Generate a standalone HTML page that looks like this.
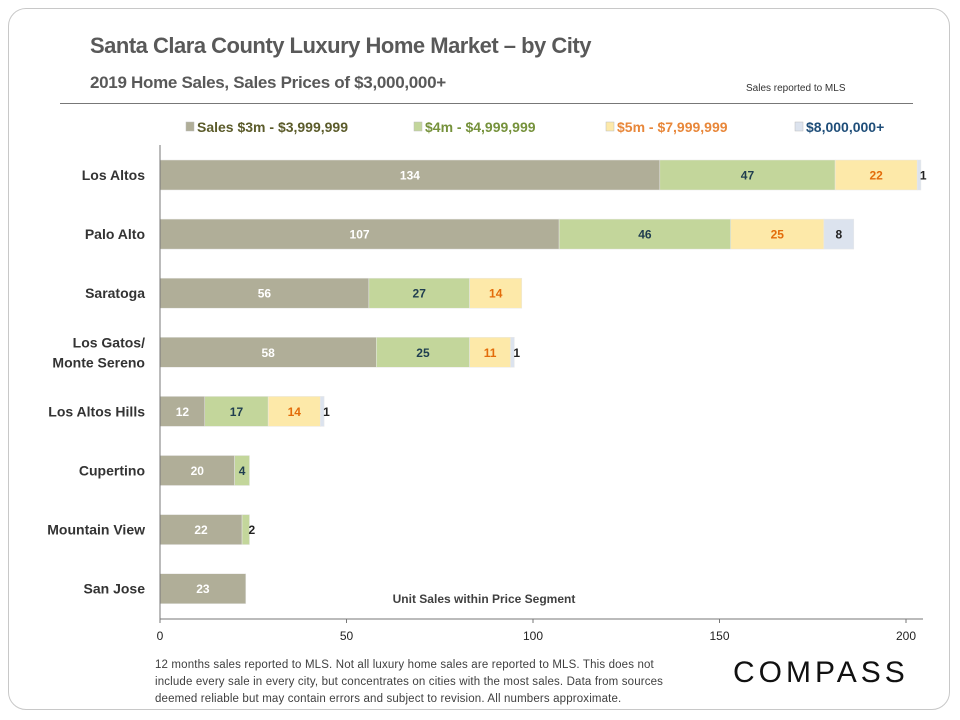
<!DOCTYPE html>
<html><head><meta charset="utf-8"><style>
body{margin:0;background:#fff;font-family:"Liberation Sans",sans-serif;}
#card{position:absolute;left:8px;top:8px;width:942px;height:702px;border:1px solid #c8c8c8;border-radius:18px;box-sizing:border-box;}
.t{position:absolute;white-space:nowrap;}
</style></head><body>
<div id="card"></div>
<div class="t" style="left:90px;top:33px;font-size:22px;font-weight:bold;color:#595959;letter-spacing:-0.5px">Santa Clara County Luxury Home Market – by City</div>
<div class="t" style="left:90px;top:73px;font-size:17px;font-weight:bold;color:#595959;letter-spacing:-0.3px">2019 Home Sales, Sales Prices of $3,000,000+</div>
<div class="t" style="left:746px;top:83px;font-size:10px;color:#333">Sales reported to MLS</div>
<div style="position:absolute;left:60px;top:103px;width:853px;height:1px;background:#777"></div>
<svg id="chart" width="960" height="720" style="position:absolute;left:0;top:0"></svg>
<div class="t" style="left:155px;top:657px;font-size:11.5px;line-height:17px;color:#404040;letter-spacing:0.15px">12 months sales reported to MLS. Not all luxury home sales are reported to MLS. This does not<br>include every sale in every city, but concentrates on cities with the most sales. Data from sources<br>deemed reliable but may contain errors and subject to revision. All numbers approximate.</div>
<div class="t" style="left:733px;top:656px;font-size:30px;letter-spacing:4px;color:#111">COMPASS</div>
<script>
const cities=["Los Altos","Palo Alto","Saratoga","Los Gatos/|Monte Sereno","Los Altos Hills","Cupertino","Mountain View","San Jose"];
const s3m=[134,107,56,58,12,20,22,23];
const s4m=[47,46,27,25,17,4,2,0];
const s5m=[22,25,14,11,14,0,0,0];
const s8m=[1,8,0,1,1,0,0,0];
const ticks=[0,50,100,150,200];
const seriesNames=["Sales $3m - $3,999,999","$4m - $4,999,999","$5m - $7,999,999","$8,000,000+"];
const fills=["#b0ae98","#c3d69b","#fde9a9","#dce3ee"];
const textCols=["#fff","#1f3d4f","#e36c0a","#222"];
const legCols=["#5b5b2a","#76923c","#e8873a","#1f4e79"];
const NS="http://www.w3.org/2000/svg";
const svg=document.getElementById('chart');
const x=v=>160+v*3.73;
const y=i=>175+i*59.1;
function mk(t,a){const e=document.createElementNS(NS,t);for(const k in a)e.setAttribute(k,a[k]);svg.appendChild(e);return e;}
const all=[s3m,s4m,s5m,s8m];
cities.forEach((c,i)=>{
  let acc=0;
  all.forEach((s,k)=>{
    const v=s[i]; if(!v)return;
    const r=mk('rect',{x:x(acc),y:y(i)-15,width:x(acc+v)-x(acc),height:30,fill:fills[k],stroke:'#e8e8e8','stroke-width':0.5});
    
    
    const tx=v<3?x(acc+v)-1:(x(acc)+x(acc+v))/2;
    const t=mk('text',{x:tx,y:y(i)+4.5,'text-anchor':v<3?'start':'middle','font-size':12,'font-weight':'bold',fill:v<3?'#222':textCols[k]});
    t.textContent=v;
    
    
    acc+=v;
  });
  const parts=c.split('|');
  parts.forEach((p,j)=>{
    const t=mk('text',{x:145,y:y(i)+5+(j-(parts.length-1)/2)*20,'text-anchor':'end','font-size':14,'font-weight':'bold',fill:'#333'});
    t.textContent=p;
    
    
  });
});
let a=mk('line',{x1:160,y1:145,x2:160,y2:619,stroke:'#777'});

a=mk('line',{x1:160,y1:619,x2:923,y2:619,stroke:'#777'});

ticks.forEach(v=>{
  mk('line',{x1:x(v),y1:619,x2:x(v),y2:623,stroke:'#777'});
  const t=mk('text',{x:x(v),y:640,'text-anchor':'middle','font-size':12,fill:'#222'});
  t.textContent=v;
  
  
});
const xt=mk('text',{x:484,y:603,'text-anchor':'middle','font-size':12,'font-weight':'bold',fill:'#404040'});
xt.textContent="Unit Sales within Price Segment";

const lx=[186,414,606,795];
seriesNames.forEach((n,k)=>{
  const r=mk('rect',{x:lx[k],y:122,width:8,height:9,fill:fills[k],stroke:'#bbb','stroke-width':0.5});
  
  const t=mk('text',{x:lx[k]+11,y:132,'font-size':14,'font-weight':'bold',fill:legCols[k]});
  t.textContent=n;
  
});
</script>
</body></html>
